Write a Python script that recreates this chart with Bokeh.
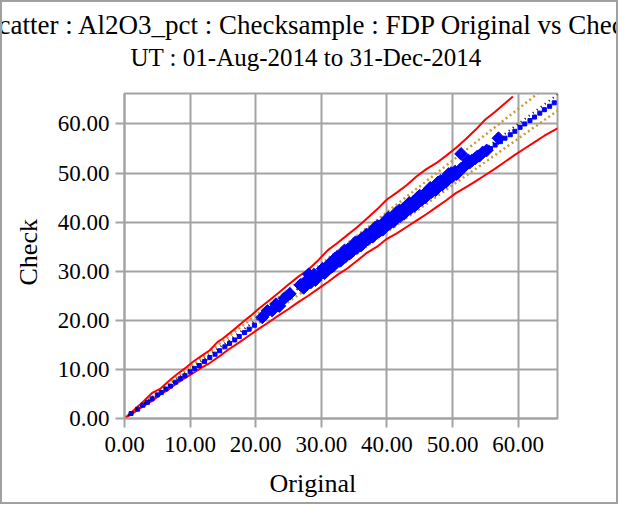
from bokeh.plotting import figure
from bokeh.models import Range1d, FixedTicker, PrintfTickFormatter, Title
from bokeh.embed import file_html
from bokeh.resources import INLINE

# ---------------- data ----------------
title_line1 = "Scatter : Al2O3_pct : Checksample : FDP Original vs Check"
title_line2 = "UT : 01-Aug-2014 to 31-Dec-2014"
x_label = "Original"
y_label = "Check"
tick_values = [0, 10, 20, 30, 40, 50, 60]

# main sample pairs (large markers)
big_x = [21.0, 21.8, 22.5, 23.1, 23.6, 24.4, 26.8, 27.3, 27.9, 28.4, 28.9, 29.5,
         30.2, 30.8, 31.3, 31.9, 32.4, 32.8, 33.3, 33.7, 34.1, 34.6, 35.0, 35.4,
         35.9, 36.3, 36.7, 37.1, 37.6, 38.0, 38.4, 38.8, 39.2, 39.6, 40.0, 40.4,
         40.8, 41.2, 41.6, 42.0, 42.4, 42.8, 43.2, 43.6, 44.0, 44.4, 44.8, 45.2,
         45.6, 46.0, 46.4, 46.8, 47.2, 47.6, 48.0, 48.4, 48.8, 49.2, 49.6, 50.0,
         50.4, 50.8, 51.3, 51.7, 52.1, 52.6, 53.0, 53.5, 54.1, 54.6, 55.2, 51.3, 57.0,
         30.5, 31.6, 32.1, 33.0, 34.3, 35.2, 36.0, 36.9, 37.8, 38.6, 39.4, 40.2,
         41.0, 41.9, 42.6, 43.4, 44.2, 45.0, 45.8, 46.6, 47.4, 48.2, 49.0, 49.8, 50.6,
         33.5, 34.8, 36.1, 37.3, 38.2, 39.0, 39.8, 40.6, 41.4, 42.2, 43.0, 43.8,
         44.6, 45.4, 46.2, 47.0, 47.8, 48.6, 49.4, 52.4, 53.8, 28.1, 29.1, 25.2]
big_y = [20.6, 21.9, 22.0, 23.3, 22.9, 24.5, 27.2, 26.6, 28.3, 27.7, 29.3, 28.9,
         30.5, 30.0, 31.6, 31.2, 32.9, 32.1, 33.6, 33.0, 34.5, 33.9, 35.3, 34.7,
         36.2, 35.6, 36.9, 36.5, 37.9, 37.3, 38.6, 38.1, 39.5, 38.9, 40.3, 39.7,
         41.0, 40.5, 41.8, 41.2, 42.6, 42.0, 43.4, 42.8, 44.1, 43.6, 44.9, 44.5,
         45.6, 45.3, 46.5, 46.1, 47.2, 46.8, 48.0, 47.6, 48.7, 48.5, 49.5, 49.3,
         50.3, 50.0, 50.9, 51.2, 51.8, 52.1, 52.6, 53.0, 53.5, 54.2, 54.6, 53.9, 57.1,
         29.6, 30.9, 32.6, 32.2, 33.6, 35.9, 35.2, 37.5, 37.0, 39.2, 38.5, 40.9,
         40.1, 42.4, 41.7, 43.9, 43.3, 45.4, 45.0, 47.0, 46.5, 48.4, 48.2, 50.0, 49.8,
         34.2, 34.9, 36.6, 36.9, 38.9, 38.4, 40.1, 40.0, 41.9, 41.6, 43.3, 43.2,
         44.9, 44.7, 46.3, 46.4, 48.1, 48.0, 49.8, 52.6, 53.4, 29.4, 28.2, 25.4]

# sparse pairs (small markers)
small_x = [1.0, 2.0, 2.8, 3.5, 4.2, 5.0, 5.6, 6.3, 7.0, 7.8, 8.5, 9.2, 10.0, 10.7,
           11.4, 12.2, 13.0, 13.8, 14.5, 15.3, 16.0, 16.8, 17.5, 18.3, 19.0, 19.8,
           55.8, 56.5, 57.3, 58.0, 58.8, 59.5, 60.3, 61.0, 61.8, 62.5, 63.3, 64.0,
           64.8, 65.5]
small_y = [1.0, 1.9, 2.7, 3.3, 4.0, 4.8, 5.3, 6.0, 6.6, 7.4, 8.1, 8.7, 9.5, 10.2,
           10.8, 11.6, 12.4, 13.1, 13.8, 14.6, 15.3, 16.0, 16.7, 17.5, 18.2, 19.0,
           55.0, 55.7, 56.4, 57.1, 57.8, 58.5, 59.3, 60.0, 60.7, 61.4, 62.2, 62.9,
           63.6, 64.3]

# upper / lower red limit lines
red_up_x = [0, 1.5, 3.0, 4.2, 5.5, 6.8, 8.0, 9.2, 10.5, 11.8, 13.0, 14.2, 15.0, 16.5,
            18.0, 19.2, 20.5, 22.0, 23.5, 25.0, 26.5, 28.0, 29.5, 31.0, 32.5, 34.0,
            35.5, 37.0, 38.5, 40.0, 41.5, 43.0, 44.5, 46.0, 47.5, 49.0, 50.5, 52.0,
            53.5, 55.0, 56.5, 58.0, 59.2]
red_up_y = [0, 1.8, 3.6, 5.2, 6.1, 7.7, 9.0, 10.2, 11.6, 12.8, 13.9, 15.6, 16.3, 17.9,
            19.6, 20.9, 22.4, 24.0, 25.6, 27.3, 28.9, 30.3, 32.2, 34.3, 35.8, 37.4,
            39.0, 40.8, 42.6, 44.6, 46.0, 47.5, 49.3, 50.8, 52.0, 53.5, 55.1, 56.9,
            58.8, 60.9, 62.5, 64.2, 65.6]
red_lo_x = [0, 1.5, 3.0, 4.2, 5.5, 6.8, 8.0, 9.2, 10.5, 11.8, 13.0, 14.5, 16.0, 17.5,
            19.0, 20.5, 22.0, 23.5, 25.0, 26.5, 28.0, 29.5, 31.0, 32.5, 34.0, 35.5,
            37.0, 38.5, 40.0, 41.5, 43.0, 44.5, 46.0, 47.5, 49.0, 50.5, 52.0, 53.5,
            55.0, 56.5, 58.0, 59.5, 61.0, 62.5, 64.0, 66.0]
red_lo_y = [0, 1.3, 2.6, 3.6, 4.9, 6.0, 7.2, 8.2, 9.3, 10.4, 11.3, 12.7, 14.2, 15.5,
            16.9, 18.3, 19.6, 21.0, 22.3, 23.7, 25.0, 26.4, 27.8, 29.3, 30.6, 32.2,
            33.8, 35.0, 36.6, 37.7, 39.0, 40.3, 41.6, 43.0, 44.4, 45.9, 47.1, 48.3,
            49.6, 50.9, 52.3, 53.7, 55.0, 56.3, 57.6, 59.1]

# +/-5 % lines and 1:1 line
orange_up_x = [0, 63.0]
orange_up_y = [0, 66.2]
orange_lo_x = [0, 66.0]
orange_lo_y = [0, 62.7]
one_x = [0, 66.0]
one_y = [0, 66.0]

# ---------------- styling ----------------
FONT = "Liberation Serif"
GRID = "#a3a3a3"

p = figure(width=618, height=504, output_backend="svg", toolbar_location=None,
           x_range=Range1d(0, 66), y_range=Range1d(0, 66.2),
           min_border_left=122, min_border_right=63,
           min_border_top=91, min_border_bottom=88)
p.styles = {"border": "2px solid #a0a0a0"}
p.background_fill_color = "white"
p.border_fill_color = "white"
p.outline_line_color = GRID
p.outline_line_width = 2

for ax in (p.xaxis[0], p.yaxis[0]):
    ax.ticker = FixedTicker(ticks=tick_values)
    ax.formatter = PrintfTickFormatter(format="%.2f")
    ax.major_label_text_font = FONT
    ax.major_label_text_font_size = "23px"
    ax.major_label_text_color = "black"
    ax.major_tick_out = 9
    ax.major_tick_in = 0
    ax.minor_tick_line_color = None
    ax.major_tick_line_color = GRID
    ax.major_tick_line_width = 2
    ax.axis_line_color = GRID
    ax.axis_line_width = 2
    ax.major_label_standoff = 6
p.xaxis.major_label_standoff = 9

for g in (p.xgrid[0], p.ygrid[0]):
    g.ticker = FixedTicker(ticks=tick_values)
    g.grid_line_color = GRID
    g.grid_line_width = 2

# ---------------- glyphs ----------------
p.line(orange_up_x, orange_up_y, line_color="#cc9933", line_width=2.5, line_dash="2 3")
p.line(orange_lo_x, orange_lo_y, line_color="#cc9933", line_width=2.5, line_dash="2 3")
p.line(red_up_x, red_up_y, line_color="#ff0000", line_width=2)
p.line(red_lo_x, red_lo_y, line_color="#ff0000", line_width=2)
p.scatter(small_x, small_y, marker="square", size=4, color="#0000ff")
p.line(one_x, one_y, line_color="black", line_width=2, line_dash="1 4")
p.scatter(big_x, big_y, marker="square", angle=0.785, size=9, color="#0000ff")

# ---------------- texts ----------------
p.add_layout(Title(text=" ", text_font_size="1px", standoff=18), "above")
p.add_layout(Title(text=title_line2, text_font=FONT, text_font_size="25px",
                   text_font_style="normal", text_color="black", align="left",
                   offset=6, vertical_align="middle", standoff=2), "above")
p.add_layout(Title(text=title_line1, text_font=FONT, text_font_size="27px",
                   text_font_style="normal", text_color="black", align="left",
                   offset=-141, vertical_align="middle", standoff=2), "above")
p.add_layout(Title(text=" ", text_font_size="1px", standoff=4), "below")
p.add_layout(Title(text=x_label, text_font=FONT, text_font_size="26px",
                   text_font_style="normal", text_color="black", align="left",
                   offset=145, vertical_align="middle", standoff=13), "below")
p.add_layout(Title(text=y_label, text_font=FONT, text_font_size="26px",
                   text_font_style="normal", text_color="black", align="left",
                   offset=133, vertical_align="middle", standoff=21), "left")

open("out.html", "w").write(file_html(p, INLINE))
